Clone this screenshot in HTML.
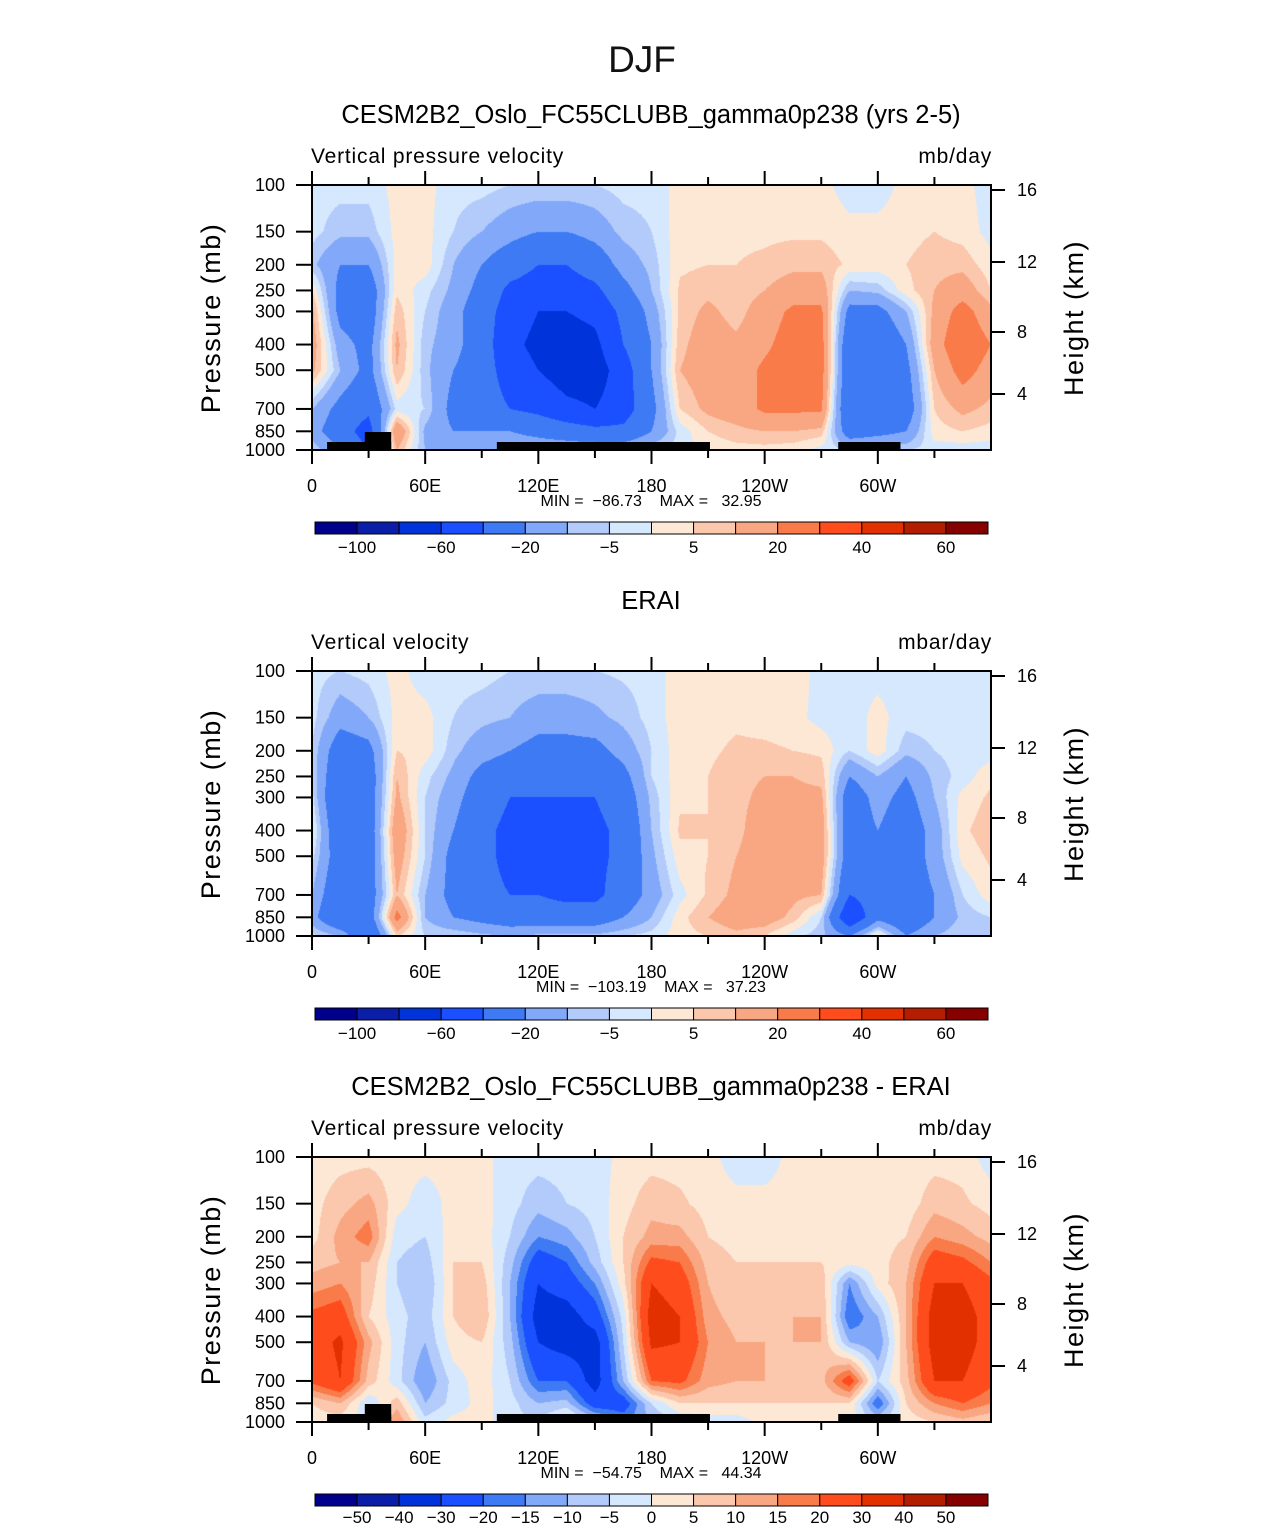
<!DOCTYPE html>
<html><head><meta charset="utf-8">
<style>
body{margin:0;background:#fff;}
#root{position:relative;width:1285px;height:1531px;overflow:hidden;font-family:"Liberation Sans",sans-serif;}
canvas{position:absolute;}
svg{position:absolute;left:0;top:0;}
text{white-space:pre;}
</style></head>
<body>
<div id="root">
<canvas id="c0" width="679" height="265" style="left:312px;top:185px"></canvas>
<canvas id="c1" width="679" height="265" style="left:312px;top:671px"></canvas>
<canvas id="c2" width="679" height="265" style="left:312px;top:1157px"></canvas>
<svg id="s" width="1285" height="1531"></svg>
</div>
<script>
const lons=[0,15,30,45,60,75,90,105,120,135,150,165,180,195,210,225,240,255,270,285,300,315,330,345,360];
const pres=[100,150,200,250,300,400,500,700,850,1000];
const levelsA=[-100,-80,-60,-40,-20,-10,-5,0,5,10,20,30,40,50,60];
const levelsB=[-50,-40,-30,-20,-15,-10,-5,0,5,10,15,20,30,40,50];
const colors=['#00008c','#0a1ea8','#0033d9','#1a50ff','#3f7af5','#82a9f9','#b3cbfb','#d6e8fd','#fde8d6','#fbc8ae','#f9a783','#f97b4a','#ff4c1c','#e23000','#b41e00','#860000'];
const tickA=['−100','−60','−20','−5','5','20','40','60'];
const tickB=['−50','−40','−30','−20','−15','−10','−5','0','5','10','15','20','30','40','50'];
const model=[
[-3,-3,-8,5,12,15,12,-10,-15,-5],[-3,-8,-20,-25,-25,-15,-10,-25,-30,-20],[-3,-8,-20,-30,-30,-25,-25,-35,-50,-40],[2,2,2,4,8,12,10,-3,20,10],[2,2,3,-3,-5,-8,-8,-5,-12,-10],[-3,-5,-10,-12,-15,-15,-20,-25,-20,-15],[-3,-10,-20,-25,-30,-30,-30,-30,-20,-10],[-5,-15,-30,-45,-50,-55,-50,-40,-20,-10],[-5,-20,-40,-50,-60,-65,-60,-45,-25,-10],[-5,-20,-40,-50,-60,-70,-70,-55,-30,-10],[-5,-15,-30,-45,-55,-65,-70,-60,-35,-10],[-3,-8,-15,-25,-35,-40,-50,-50,-35,-10],[-3,-5,-8,-10,-15,-20,-20,-25,-20,-5],[2,3,4,6,6,8,10,5,-3,-3],[2,4,5,8,12,15,15,12,5,2],[2,4,5,6,7,12,15,15,8,3],[2,4,6,10,15,18,22,22,10,3],[2,4,8,15,22,25,25,22,10,2],[2,4,8,15,22,25,25,22,8,-2],[-3,2,4,-10,-25,-35,-35,-40,-30,-5],[-3,2,3,-8,-25,-35,-38,-40,-25,-5],[2,3,5,3,-10,-20,-25,-30,-20,-5],[2,5,8,10,12,15,10,5,3,-3],[2,3,8,15,25,30,25,12,5,-3],[-3,-2,2,5,12,20,15,8,3,-3]];
const erai=[
[-3,-3,-5,-5,-3,2,-3,-10,-15,-3],[-5,-15,-30,-35,-40,-35,-30,-35,-40,-10],[-3,-10,-25,-30,-30,-30,-30,-30,-30,-40],[2,2,5,10,12,18,15,10,25,5],[-3,2,3,-3,-5,-5,-5,-10,-10,-5],[-3,-5,-8,-12,-15,-20,-25,-25,-20,-5],[-3,-8,-15,-25,-30,-35,-35,-35,-25,-8],[-5,-10,-20,-30,-40,-45,-45,-40,-30,-10],[-5,-15,-25,-35,-40,-40,-40,-40,-30,-8],[-5,-15,-25,-35,-40,-42,-45,-45,-30,-8],[-5,-12,-25,-35,-40,-45,-45,-45,-30,-8],[-4,-8,-15,-25,-30,-35,-35,-30,-20,-5],[-3,-3,-5,-5,-8,-10,-12,-15,-10,-3],[3,3,3,3,4,6,3,-2,3,3],[3,3,4,5,5,5,5,6,10,5],[3,4,6,8,8,8,10,12,15,8],[3,3,6,10,12,15,15,15,15,5],[3,2,5,10,12,15,15,12,8,-3],[-2,-2,4,8,12,15,15,10,-5,-8],[-2,-3,-5,-20,-30,-30,-30,-40,-60,-20],[-2,2,3,-10,-15,-20,-25,-30,-25,5],[-3,-3,-8,-20,-25,-30,-30,-30,-35,-20],[-3,-3,-5,-8,-10,-15,-15,-20,-20,-10],[-3,-3,-3,-3,2,4,2,-5,-8,-5],[-3,-3,-3,4,6,8,6,3,-5,-5]];
const diff=[
[2,3,3,8,12,22,25,22,5,2],[3,8,12,10,15,25,32,30,10,2],[3,12,18,10,8,5,12,8,-5,-3],[2,2,-3,-5,-5,-3,-3,-3,8,15],[2,-3,-5,-8,-10,-8,-10,-15,-10,-3],[2,2,3,5,5,5,3,-3,-3,2],[2,2,3,5,8,10,5,3,2,2],[-3,-3,-5,-8,-10,-10,-8,-5,-3,-3],[-3,-8,-15,-25,-30,-35,-30,-20,-10,-5],[-3,-5,-12,-20,-25,-35,-35,-20,-8,5],[-3,-3,-5,-8,-15,-25,-35,-35,-25,-5],[2,3,5,5,3,-3,-5,-10,-25,-15],[3,8,12,22,30,35,32,20,-5,-10],[3,6,12,20,25,30,30,22,5,-5],[2,3,5,8,10,12,15,12,5,-3],[-3,2,3,5,5,8,10,10,5,-3],[-3,2,3,5,5,8,10,10,5,2],[2,2,3,5,8,10,10,8,5,2],[2,2,3,5,8,10,10,8,5,2],[2,3,3,2,-15,-20,-10,25,5,2],[2,3,3,3,2,-10,-15,-5,-20,-5],[2,2,5,8,10,10,10,8,5,2],[3,8,15,25,30,35,35,30,15,5],[3,6,12,22,30,35,35,30,20,8],[-3,3,8,15,22,25,25,22,15,5]];
const land=[[8,42,1000],[28,42,850],[98,211,1000],[279,312,1000]];

const X0=312,W=679,H=265;
function xOf(lon){return lon/360*W;}
function yOf(p){return Math.log(p/100)/Math.log(10)*H;}
function colIdx(v,lv){let i=0;for(const l of lv){if(v>=l)i++;}return i;}

function drawField(id,data,lv){
  const ctx=document.getElementById(id).getContext('2d');
  const ly=pres.map(yOf);
  for(let py=0;py<H;py+=1){
    let j=0;while(j<pres.length-2&&ly[j+1]<py+0.5)j++;
    const ty=Math.min(1,Math.max(0,(py+0.5-ly[j])/(ly[j+1]-ly[j])));
    for(let px=0;px<W;px+=1){
      const lon=(px+0.5)/W*360;
      let i=Math.min(lons.length-2,Math.floor(lon/15));
      const tx=(lon-lons[i])/15;
      const v=(data[i][j]*(1-tx)+data[i+1][j]*tx)*(1-ty)+(data[i][j+1]*(1-tx)+data[i+1][j+1]*tx)*ty;
      ctx.fillStyle=colors[colIdx(v,lv)];
      ctx.fillRect(px,py,1,1);
    }
  }
}
drawField('c0',model,levelsA);drawField('c1',erai,levelsA);drawField('c2',diff,levelsB);

const S=document.getElementById('s');const NS='http://www.w3.org/2000/svg';
function el(tag,attrs,name,txt){const e=document.createElementNS(NS,tag);for(const k in attrs)e.setAttribute(k,attrs[k]);


if(txt!==undefined)e.textContent=txt;S.appendChild(e);return e;}

const F='Liberation Sans, sans-serif';
el('text',{x:642,y:72,'font-size':37,'text-anchor':'middle','font-family':F,fill:'#111'},'figure-title','DJF');

const panels=[
 {top:185,title:'CESM2B2_Oslo_FC55CLUBB_gamma0p238 (yrs 2-5)',left:'Vertical pressure velocity',right:'mb/day',min:'−86.73',max:'32.95',land:true,ticks:tickA},
 {top:671,title:'ERAI',left:'Vertical velocity',right:'mbar/day',min:'−103.19',max:'37.23',land:false,ticks:tickA},
 {top:1157,title:'CESM2B2_Oslo_FC55CLUBB_gamma0p238 - ERAI',left:'Vertical pressure velocity',right:'mb/day',min:'−54.75',max:'44.34',land:true,ticks:tickB}];
const xl=[[0,'0'],[60,'60E'],[120,'120E'],[180,'180'],[240,'120W'],[300,'60W']];
const plab=[100,150,200,250,300,400,500,700,850,1000];
const hk=[[16,5],[12,77],[8,147],[4,209]];
panels.forEach((P,k)=>{
 const T=P.top;
 el('text',{x:651,y:T-62,'font-size':25.5,'text-anchor':'middle',fill:'#000','font-family':F},'panel-title',P.title);
 el('text',{x:311,y:T-22,'font-size':21,'font-family':F,fill:'#000','letter-spacing':'0.8'},'panel-left-string',P.left);
 el('text',{x:992,y:T-22,'font-size':21,'font-family':F,'text-anchor':'end',fill:'#000','letter-spacing':'0.8'},'panel-units',P.right);
 if(P.land){land.forEach(L=>{const x1=X0+xOf(L[0]),x2=X0+xOf(L[1]);const yt=L[2]==1000?T+H-8:T+H-18;
   el('rect',{x:x1,y:yt,width:x2-x1,height:T+H-yt,fill:'#000'},'land-mask');});}
 el('rect',{x:X0,y:T,width:W,height:H,fill:'none',stroke:'#000','stroke-width':2},'plot-frame');
 for(let lon=0;lon<=330;lon+=30){const x=X0+xOf(lon);const len=lon%60==0?14:8;
  el('line',{x1:x,y1:T+H,x2:x,y2:T+H+len,stroke:'#000','stroke-width':2},'x-tick');
  el('line',{x1:x,y1:T,x2:x,y2:T-len,stroke:'#000','stroke-width':2},'x-tick-top');}
 xl.forEach(a=>el('text',{x:X0+xOf(a[0]),y:T+H+42,'font-size':18,'text-anchor':'middle','font-family':F,fill:'#000'},'x-tick-label',a[1]));
 el('text',{x:651,y:T+H+56,'font-size':16,'text-anchor':'middle','font-family':F,fill:'#000'},'min-max-label','MIN =  '+P.min+'    MAX =   '+P.max);
 plab.forEach(p=>{const y=T+yOf(p);
  el('line',{x1:X0-16,y1:y,x2:X0,y2:y,stroke:'#000','stroke-width':2},'y-tick');
  el('text',{x:285,y:y+6,'font-size':18,'text-anchor':'end','font-family':F,fill:'#000'},'y-tick-label',String(p));});
 hk.forEach(h=>{const y=T+h[1];
  el('line',{x1:X0+W,y1:y,x2:X0+W+14,y2:y,stroke:'#000','stroke-width':2},'height-tick');
  el('text',{x:1017,y:y+6,'font-size':18,'font-family':F,fill:'#000'},'height-tick-label',String(h[0]));});
 el('text',{x:0,y:0,'font-size':27,'text-anchor':'middle','font-family':F,fill:'#000',transform:'translate(220,'+(T+133)+') rotate(-90)','letter-spacing':'1.5'},'y-axis-title','Pressure (mb)');
 el('text',{x:0,y:0,'font-size':27,'text-anchor':'middle','font-family':F,fill:'#000',transform:'translate(1083,'+(T+133)+') rotate(-90)','letter-spacing':'1.5'},'height-axis-title','Height (km)');
 const cy=T+337,bx=315,bw=673/16;
 colors.forEach((c,i)=>el('rect',{x:bx+i*bw,y:cy,width:bw,height:12,fill:c,stroke:'#000','stroke-width':1},'colorbar-box'));
 if(P.ticks.length==8){P.ticks.forEach((t,i)=>el('text',{x:bx+(1+2*i)*bw,y:cy+31,'font-size':17,'text-anchor':'middle','font-family':F,fill:'#000'},'colorbar-label',t));}
 else{P.ticks.forEach((t,i)=>el('text',{x:bx+(1+i)*bw,y:cy+29,'font-size':17,'text-anchor':'middle','font-family':F,fill:'#000'},'colorbar-label',t));}
});
</script>
</body></html>
